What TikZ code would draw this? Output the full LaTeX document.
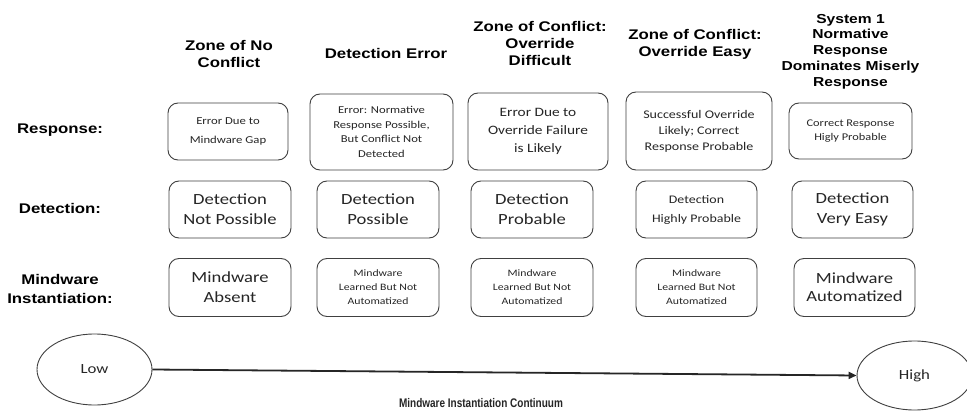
\documentclass[tikz,border=0pt]{standalone}
\usepackage{fontspec}
\setmainfont{Liberation Sans}
\newfontfamily\hfont{Liberation Sans}[FakeStretch=1.2]
\newfontfamily\boxfont{Carlito}[FakeStretch=1.2]
\usetikzlibrary{shapes.geometric,arrows.meta}
\begin{document}
\begin{tikzpicture}[x=1pt,y=-1pt,
  hdr/.style={font=\hfont\fontsize{14}{17}\selectfont\bfseries, align=center, text=black, inner sep=0pt},
  hdrsm/.style={font=\hfont\fontsize{13}{15.8}\selectfont\bfseries, align=center, text=black, inner sep=0pt},
  lbl/.style={font=\hfont\fontsize{14}{19}\selectfont\bfseries, align=center, text=black, inner sep=0pt},
  cell/.style={draw=black!75, rounded corners=10pt, line width=0.9pt, align=center, text=black!85, inner sep=0pt},
  tbig/.style={font=\boxfont\fontsize{15.5}{20}\selectfont},
  tra/.style={font=\boxfont\fontsize{10.6}{18.5}\selectfont},
  trb/.style={font=\boxfont\fontsize{10.5}{14.5}\selectfont},
  trc/.style={font=\boxfont\fontsize{12.8}{18}\selectfont},
  trd/.style={font=\boxfont\fontsize{11.7}{16}\selectfont},
  tre/.style={font=\boxfont\fontsize{10.3}{13.5}\selectfont},
  tdet/.style={font=\boxfont\fontsize{11.6}{19}\selectfont},
  tmw/.style={font=\boxfont\fontsize{9.8}{14}\selectfont},
  endpt/.style={draw=black!75, ellipse, line width=0.9pt, inner sep=0pt, font=\boxfont\fontsize{14}{16}\selectfont, text=black!85}
]
\useasboundingbox (0,0) rectangle (967,412);
\fill[white] (0,0) rectangle (967,412);

% column headers
\node[hdr] (h1) at (229,53.5) {Zone of No\\Conflict};
\node[hdr] (h2) at (386,53.5) {Detection Error};
\node[hdr] (h3) at (540,43.5) {Zone of Conflict:\\Override\\Difficult};
\node[hdr] (h4) at (695,44) {Zone of Conflict:\\Override Easy};
\node[hdrsm] (h5) at (850.5,51.5) {System 1\\Normative\\Response\\Dominates Miserly\\Response};

% row labels
\node[lbl] (lr) at (60,130) {Response:};
\node[lbl] (ld) at (60,208.5) {Detection:};
\node[lbl] (lm) at (60,288.5) {Mindware\\Instantiation:};

% response row
\node[cell, tra, minimum width=120pt, minimum height=57pt] (r1) at (228,131.5) {Error Due to\\Mindware Gap};
\node[cell, trb, minimum width=143pt, minimum height=76pt] (r2) at (381.5,132) {Error: Normative\\Response Possible,\\But Conflict Not\\Detected};
\node[cell, trc, minimum width=140pt, minimum height=77pt] (r3) at (538,131.5) {Error Due to\\Override Failure\\is Likely};
\node[cell, trd, minimum width=146pt, minimum height=78pt] (r4) at (699,131) {Successful Override\\Likely; Correct\\Response Probable};
\node[cell, tre, minimum width=123pt, minimum height=56pt] (r5) at (850.5,131) {Correct Response\\Higly Probable};

% detection row
\node[cell, tbig, minimum width=122pt, minimum height=57pt] (d1) at (230,209.5) {Detection\\Not Possible};
\node[cell, tbig, minimum width=122pt, minimum height=57pt] (d2) at (378,209.5) {Detection\\Possible};
\node[cell, tbig, minimum width=122pt, minimum height=57pt] (d3) at (532,209.5) {Detection\\Probable};
\node[cell, tdet, minimum width=121pt, minimum height=57pt] (d4) at (696.5,209.5) {Detection\\Highly Probable};
\node[cell, tbig, minimum width=121pt, minimum height=57pt] (d5) at (852.5,209.5) {Detection\\Very Easy};

% mindware row
\node[cell, tbig, minimum width=122pt, minimum height=58pt] (m1) at (230,287.5) {Mindware\\Absent};
\node[cell, tmw, minimum width=122pt, minimum height=58pt] (m2) at (378,287.5) {Mindware\\Learned But Not\\Automatized};
\node[cell, tmw, minimum width=122pt, minimum height=58pt] (m3) at (532,287.5) {Mindware\\Learned But Not\\Automatized};
\node[cell, tmw, minimum width=121pt, minimum height=58pt] (m4) at (696.5,287.5) {Mindware\\Learned But Not\\Automatized};
\node[cell, font=\boxfont\fontsize{15.5}{18}\selectfont, minimum width=121pt, minimum height=58pt] (m5) at (854.5,287.5) {Mindware\\Automatized};

% continuum
\node[endpt, minimum width=115pt, minimum height=71pt] (low) at (94.5,369.5) {Low};
\node[endpt, minimum width=115pt, minimum height=69pt] (high) at (914.5,375.5) {High};
\draw[line width=1.8pt, black!85, -{Triangle[length=8pt,width=7pt]}] (low.east) -- (high.west);
\node[font=\fontsize{12.5}{14}\selectfont\bfseries, text=black!85, inner sep=0pt] (cont) at (481,403) {\scalebox{0.8}[1]{Mindware Instantiation Continuum}};
\end{tikzpicture}
\end{document}
